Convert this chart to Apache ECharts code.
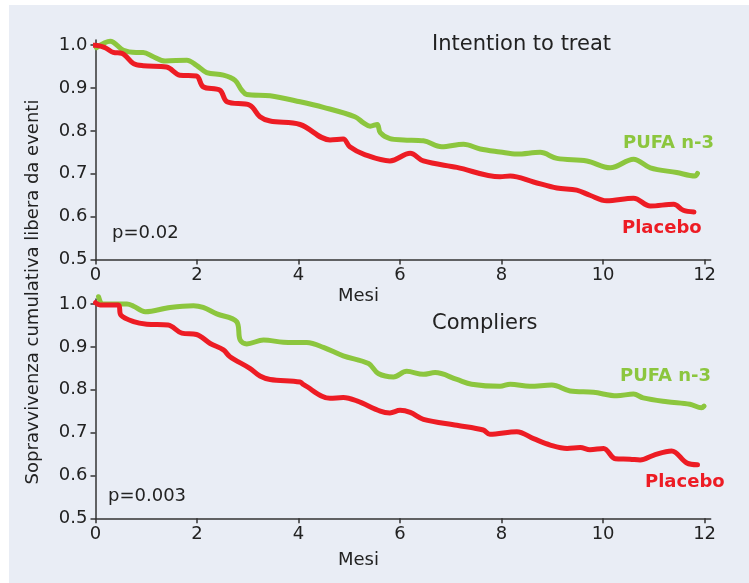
<!DOCTYPE html>
<html><head><meta charset="utf-8">
<script src="https://cdn.jsdelivr.net/npm/echarts@6/dist/echarts.min.js"></script>
<style>html,body{margin:0;padding:0;background:#fff}#c{width:749px;height:583px}</style>
</head><body><div id="c"></div>
<script>
// ---- tick labels ----
const xTicks = [0, 2, 4, 6, 8, 10, 12];
const yTicks = [0.5, 0.6, 0.7, 0.8, 0.9, 1.0];

// ---- Intention to treat ----
const ittPufaMonths = [0.02,0.29,0.55,0.80,0.94,1.14,1.37,1.80,1.99,2.19,2.52,2.75,2.88,2.98,3.44,4.03,4.49,5.11,5.28,5.41,5.55,5.61,5.80,6.07,6.46,6.82,7.25,7.58,7.97,8.30,8.76,9.09,9.68,10.14,10.60,10.93,11.45,11.81,11.86];
const ittPufaSurv   = [0.994,1.009,0.988,0.983,0.983,0.973,0.963,0.965,0.953,0.936,0.930,0.918,0.895,0.885,0.882,0.868,0.855,0.833,0.819,0.811,0.815,0.796,0.782,0.779,0.777,0.763,0.769,0.758,0.751,0.746,0.750,0.736,0.730,0.714,0.734,0.714,0.703,0.695,0.701];
const ittPlacMonths = [-0.11,0.0,0.19,0.35,0.52,0.75,0.94,1.40,1.66,1.99,2.12,2.45,2.59,3.04,3.24,3.44,4.03,4.62,4.88,5.01,5.28,5.80,6.20,6.46,7.12,7.97,8.17,8.63,9.09,9.48,9.74,10.07,10.60,10.93,11.39,11.58,11.79];
const ittPlacSurv   = [1.0,1.0,0.994,0.983,0.981,0.957,0.952,0.949,0.930,0.928,0.903,0.895,0.868,0.860,0.833,0.823,0.815,0.779,0.781,0.763,0.746,0.730,0.748,0.730,0.715,0.693,0.695,0.681,0.667,0.662,0.650,0.637,0.643,0.625,0.629,0.615,0.611];

// ---- Compliers ----
const cmpPufaMonths = [0.06,0.15,0.35,0.62,0.75,0.98,1.47,1.93,2.12,2.39,2.78,2.85,2.98,3.31,3.70,4.16,4.49,4.88,5.38,5.57,5.87,6.13,6.46,6.69,7.12,7.41,7.97,8.17,8.56,8.99,9.35,9.81,10.27,10.60,10.79,11.26,11.71,11.94,11.99];
const cmpPufaSurv   = [1.017,1.0,1.0,1.0,0.995,0.982,0.992,0.996,0.992,0.977,0.959,0.916,0.907,0.916,0.911,0.910,0.899,0.879,0.861,0.838,0.830,0.843,0.836,0.840,0.824,0.813,0.808,0.813,0.808,0.811,0.797,0.794,0.786,0.790,0.781,0.772,0.766,0.758,0.762];
const cmpPlacMonths = [0.0,0.09,0.45,0.50,0.75,1.01,1.43,1.70,1.99,2.26,2.52,2.65,3.04,3.24,3.44,4.03,4.10,4.62,4.88,5.15,5.61,5.80,6.00,6.20,6.46,7.12,7.64,7.77,8.30,8.63,8.96,9.29,9.55,9.74,10.01,10.24,10.53,10.73,10.99,11.35,11.65,11.86];
const cmpPlacSurv   = [1.003,0.998,0.998,0.974,0.959,0.953,0.951,0.932,0.929,0.908,0.893,0.877,0.850,0.832,0.824,0.818,0.812,0.780,0.782,0.774,0.750,0.746,0.752,0.747,0.731,0.717,0.706,0.696,0.702,0.686,0.671,0.663,0.665,0.660,0.663,0.639,0.638,0.636,0.647,0.657,0.629,0.625];

const GREEN = '#8cc63e', RED = '#ed1c24', INK = '#222', AXIS = '#333';
const FONT = '"DejaVu Sans", Verdana, sans-serif';

function pairs(xs, ys){ return xs.map((x,i)=>[x, ys[i]]); }

function xAx(gi){
  return {type:'value', gridIndex:gi, min:0, max:12.12,
    axisLine:{show:true, onZero:false, lineStyle:{color:AXIS, width:1.5}},
    axisTick:{show:true, length:5, customValues:xTicks, lineStyle:{color:AXIS, width:1.5}},
    axisLabel:{customValues:xTicks, color:INK, fontSize:18, fontFamily:FONT, margin:7},
    splitLine:{show:false}};
}
function yAx(gi){
  return {type:'value', gridIndex:gi, min:0.5, max:1.012,
    axisLine:{show:true, lineStyle:{color:AXIS, width:1.5}},
    axisTick:{show:true, length:5, customValues:yTicks, lineStyle:{color:AXIS, width:1.5}},
    axisLabel:{customValues:yTicks, color:INK, fontSize:18, fontFamily:FONT, margin:8,
      formatter:v=>v.toFixed(1)},
    splitLine:{show:false}};
}
function line(gi, xs, ys, color){
  return {type:'line', xAxisIndex:gi, yAxisIndex:gi, data:pairs(xs, ys),
    showSymbol:false, symbol:'none', smooth:0.35, clip:false,
    lineStyle:{color:color, width:5, cap:'round', join:'round'}, z:3};
}
function txt(x, y, s, size, color, weight, extra){
  return Object.assign({type:'text', x:x, y:y, z:100, silent:true,
    style:{text:s, fill:color, font:(weight||'normal')+' '+size+'px '+FONT, textVerticalAlign:'middle'}}, extra||{});
}

const chart = echarts.init(document.getElementById('c'), null, {renderer:'canvas'});
chart.setOption({
  backgroundColor:'#ffffff',
  animation:false,
  grid:[
    {left:95.5, top:40, width:615.2, height:219.6},
    {left:95.5, top:298.9, width:615.2, height:219.4}
  ],
  xAxis:[xAx(0), xAx(1)],
  yAxis:[yAx(0), yAx(1)],
  series:[
    line(0, ittPufaMonths, ittPufaSurv, GREEN),
    line(0, ittPlacMonths, ittPlacSurv, RED),
    line(1, cmpPufaMonths, cmpPufaSurv, GREEN),
    line(1, cmpPlacMonths, cmpPlacSurv, RED)
  ],
  graphic:[
    {type:'rect', shape:{x:9, y:5, width:740, height:578}, style:{fill:'#e9edf5'}, z:-10, silent:true},
    txt(432, 45, 'Intention to treat', 21, INK),
    txt(432, 324, 'Compliers', 21, INK),
    txt(623, 143, 'PUFA n-3', 18, GREEN, 'bold'),
    txt(622, 228, 'Placebo', 18, RED, 'bold'),
    txt(620, 376, 'PUFA n-3', 18, GREEN, 'bold'),
    txt(645, 482, 'Placebo', 18, RED, 'bold'),
    txt(112, 233, 'p=0.02', 18, INK),
    txt(108, 496, 'p=0.003', 18, INK),
    txt(338, 296, 'Mesi', 18, INK),
    txt(338, 560, 'Mesi', 18, INK),
    {type:'text', x:33, y:292, rotation:Math.PI/2, z:100, silent:true,
      style:{text:'Sopravvivenza cumulativa libera da eventi', fill:INK, font:'normal 18px '+FONT,
        textAlign:'center', textVerticalAlign:'middle'}}
  ]
});
</script>
</body></html>
